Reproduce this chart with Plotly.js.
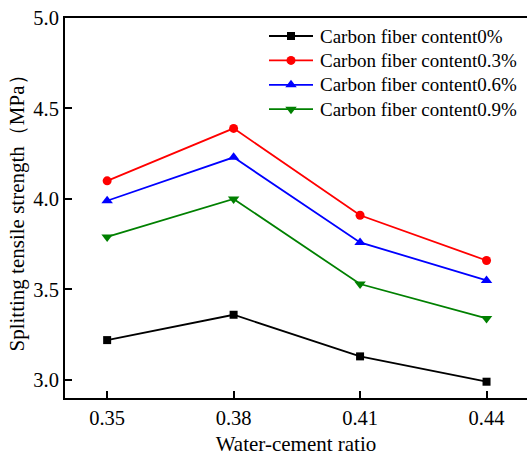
<!DOCTYPE html>
<html><head><meta charset="utf-8">
<script src="https://cdn.plot.ly/plotly-3.0.1.min.js"></script>
<style>html,body{margin:0;padding:0;background:#fff}#chart{width:527px;height:456px}</style>
</head><body><div id="chart"></div>
<script>
const ratios = [0.35, 0.38, 0.41, 0.44];
const tickLabels = ['0.35', '0.38', '0.41', '0.44'];
const cf0 = [3.22, 3.36, 3.13, 2.99];
const cf03 = [4.10, 4.39, 3.91, 3.66];
const cf06 = [3.99, 4.23, 3.76, 3.55];
const cf09 = [3.79, 4.00, 3.53, 3.34];
const names = ['Carbon fiber content0%', 'Carbon fiber content0.3%', 'Carbon fiber content0.6%', 'Carbon fiber content0.9%'];
const colors = ['#000000', '#ff0000', '#0000ff', '#008000'];
const symbols = ['square', 'circle', 'triangle-up', 'triangle-down'];
const markerSizes = [8, 9, 10, 10];
const series = [cf0, cf03, cf06, cf09];

const font = "Liberation Serif";
const W = 527, H = 456, M = {l: 65, r: 0, t: 18, b: 58};
const PW = W - M.l - M.r, PH = H - M.t - M.b;
const px2x = px => (px - M.l) / PW;
const px2y = py => 1 - (py - M.t) / PH;

const traces = series.map((s, i) => ({
  x: ratios, y: s, name: names[i], type: 'scatter', mode: 'lines+markers',
  line: {color: colors[i], width: 1.8},
  marker: {symbol: symbols[i], size: markerSizes[i], color: colors[i]}
}));

// legend drawn with shapes + annotations (positions in pixels converted to paper units)
const legX0 = 269, legX1 = 313, legTextX = 318, legY0 = 36, legStep = 24.4;
const shapes = [], annotations = [];
names.forEach((n, i) => {
  const cy = legY0 + i * legStep, cx = (legX0 + legX1) / 2;
  shapes.push({type: 'line', xref: 'paper', yref: 'paper', x0: px2x(legX0), x1: px2x(legX1), y0: px2y(cy), y1: px2y(cy),
               line: {color: colors[i], width: 1.8}});
  const r = markerSizes[i] / 2;
  const P = (dx, dy) => px2x(cx + dx) + ',' + px2y(cy + dy);
  if (symbols[i] === 'square') {
    shapes.push({type: 'rect', xref: 'paper', yref: 'paper', x0: px2x(cx - r), x1: px2x(cx + r), y0: px2y(cy + r), y1: px2y(cy - r),
                 fillcolor: colors[i], line: {width: 0}});
  } else if (symbols[i] === 'circle') {
    shapes.push({type: 'circle', xref: 'paper', yref: 'paper', x0: px2x(cx - r), x1: px2x(cx + r), y0: px2y(cy + r), y1: px2y(cy - r),
                 fillcolor: colors[i], line: {width: 0}});
  } else {
    const rt = r * 2 / Math.sqrt(3), r2 = r / 2;
    const path = symbols[i] === 'triangle-up'
      ? 'M' + P(-rt, r2) + 'L' + P(rt, r2) + 'L' + P(0, -r) + 'Z'
      : 'M' + P(-rt, -r2) + 'L' + P(rt, -r2) + 'L' + P(0, r) + 'Z';
    shapes.push({type: 'path', xref: 'paper', yref: 'paper', path: path, fillcolor: colors[i], line: {width: 0}});
  }
  annotations.push({xref: 'paper', yref: 'paper', x: px2x(legTextX), y: px2y(cy), xanchor: 'left', yanchor: 'middle',
                    showarrow: false, text: n, font: {family: font, size: 19, color: '#000'}});
});

const layout = {
  width: W, height: H,
  margin: M,
  paper_bgcolor: '#fff', plot_bgcolor: '#fff',
  font: {family: font, size: 21, color: '#000'},
  showlegend: false,
  shapes: shapes,
  annotations: annotations,
  xaxis: {
    range: [0.34, 0.4496], tickvals: ratios, ticktext: tickLabels,
    tickfont: {family: font, size: 20.5, color: '#000'},
    showline: true, linecolor: '#000', linewidth: 2, mirror: true,
    ticks: 'inside', ticklen: 7, tickwidth: 2, tickcolor: '#000',
    showgrid: false, zeroline: false,
    title: {text: 'Water-cement ratio', font: {family: font, size: 21, color: '#000'}, standoff: 15}
  },
  yaxis: {
    range: [2.9, 5.0], tickvals: [3.0, 3.5, 4.0, 4.5, 5.0], ticktext: ['3.0', '3.5', '4.0', '4.5', '5.0'],
    tickfont: {family: font, size: 20.5, color: '#000'},
    showline: true, linecolor: '#000', linewidth: 2, mirror: false,
    ticks: 'inside', ticklen: 7, tickwidth: 2, tickcolor: '#000',
    showgrid: false, zeroline: false,
    title: {text: 'Splitting tensile strength（MPa）', font: {family: font, size: 21, color: '#000'}, standoff: 3}
  }
};
Plotly.newPlot('chart', traces, layout, {displayModeBar: false, staticPlot: true});
</script>
</body></html>
